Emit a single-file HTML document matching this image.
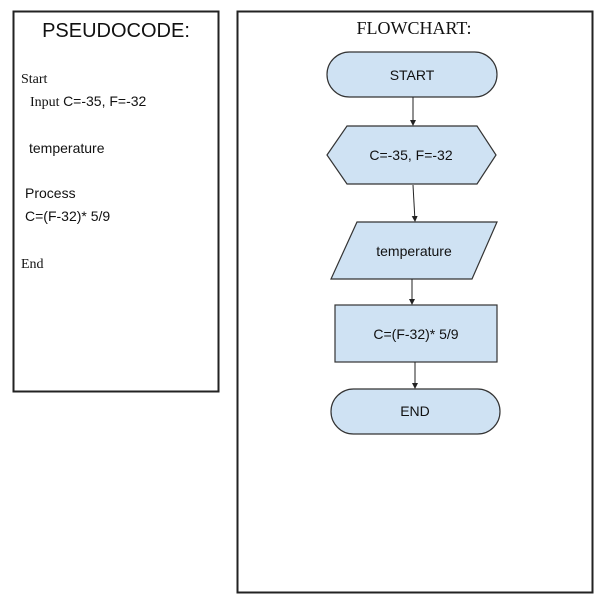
<!DOCTYPE html>
<html><head><style>
html,body{margin:0;padding:0;background:#fff;width:600px;height:600px;overflow:hidden}
svg{display:block}
</style></head><body>
<svg width="600" height="600" viewBox="0 0 600 600" xmlns="http://www.w3.org/2000/svg">
<defs><marker id="a" markerWidth="6" markerHeight="6" refX="5" refY="3" orient="auto"><path d="M0,0 L6,3 L0,6 z" fill="#222"/></marker></defs>
<rect x="13.5" y="11.5" width="205" height="380" fill="#fff" stroke="#222" stroke-width="2"/>
<rect x="237.5" y="11.5" width="355" height="581" fill="#fff" stroke="#222" stroke-width="2"/>
<text x="116" y="37" font-family="Liberation Sans, sans-serif" font-size="20" text-anchor="middle" fill="#111">PSEUDOCODE:</text>
<g font-size="14" fill="#111">
<text x="21" y="83" font-family="Liberation Serif, serif">Start</text>
<text x="30" y="106" font-family="Liberation Serif, serif">Input <tspan font-family="Liberation Sans, sans-serif">C=-35, F=-32</tspan></text>
<text x="29" y="153" font-family="Liberation Sans, sans-serif">temperature</text>
<text x="25" y="198" font-family="Liberation Sans, sans-serif">Process</text>
<text x="25" y="221" font-family="Liberation Sans, sans-serif">C=(F-32)* 5/9</text>
<text x="21" y="268" font-family="Liberation Serif, serif">End</text>
</g>
<text x="414" y="34" font-family="Liberation Serif, serif" font-size="18" text-anchor="middle" fill="#111">FLOWCHART:</text>
<g fill="#cfe2f3" stroke="#333" stroke-width="1.2">
<rect x="327" y="52" width="170" height="45" rx="22.5"/>
<polygon points="327,155 347,126 477,126 496,155 477,184 347,184"/>
<polygon points="357,222 497,222 472,279 331,279"/>
<rect x="335" y="305" width="162" height="57"/>
<rect x="331" y="389" width="169" height="45" rx="22.5"/>
</g>
<g stroke="#222" stroke-width="1" marker-end="url(#a)">
<line x1="413" y1="97" x2="413" y2="125"/>
<line x1="413" y1="185" x2="415" y2="221"/>
<line x1="412" y1="279" x2="412" y2="304"/>
<line x1="415" y1="362" x2="415" y2="388"/>
</g>
<g font-family="Liberation Sans, sans-serif" font-size="14" text-anchor="middle" fill="#111">
<text x="412" y="80">START</text>
<text x="411" y="160">C=-35, F=-32</text>
<text x="414" y="256">temperature</text>
<text x="416" y="339">C=(F-32)* 5/9</text>
<text x="415" y="416">END</text>
</g>
</svg>
</body></html>
